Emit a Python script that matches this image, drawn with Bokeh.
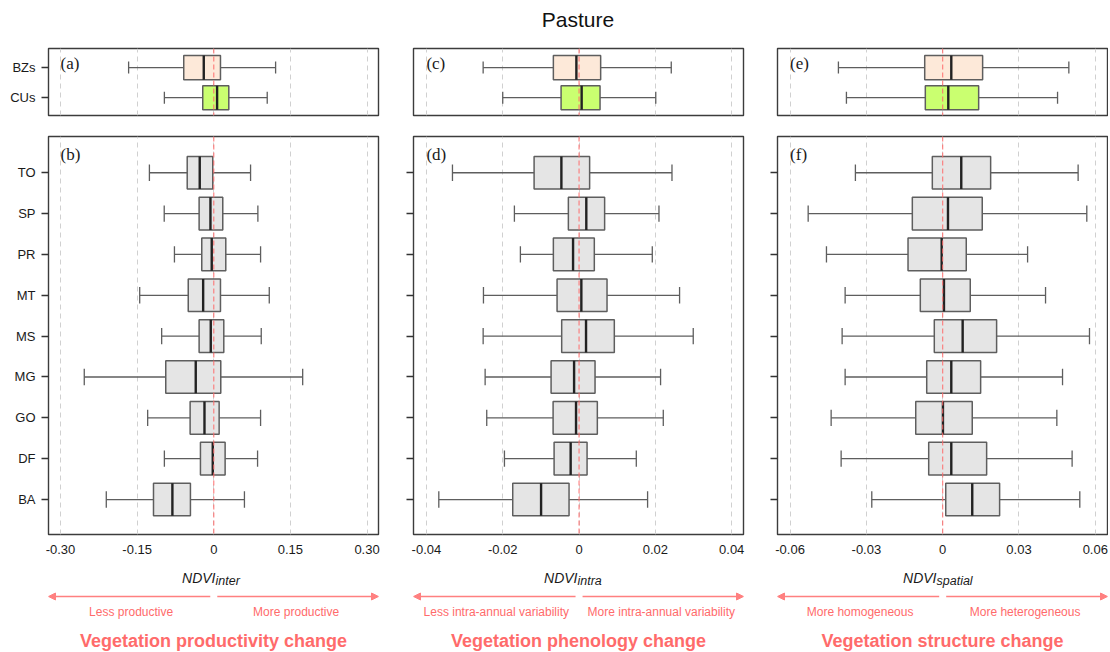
from bokeh.plotting import figure
from bokeh.layouts import column, row
from bokeh.models import Range1d, FixedTicker, Span, Arrow, NormalHead, ColumnDataSource
from bokeh.core.properties import value
from bokeh.embed import file_html
from bokeh.resources import INLINE

# ---------------- data ----------------
land_types = ["BA", "DF", "GO", "MG", "MS", "MT", "PR", "SP", "TO"]
zones = ["CUs", "BZs"]

# NDVI inter (per land type: whisker low, Q1, median, Q3, whisker high)
inter_lo = [-0.2104, -0.0967, -0.1294, -0.2535, -0.1020, -0.1450, -0.0770, -0.0970, -0.1260]
inter_q1 = [-0.1180, -0.0261, -0.0463, -0.0940, -0.0287, -0.0500, -0.0235, -0.0287, -0.0520]
inter_md = [-0.0810, -0.0020, -0.0182, -0.0353, -0.0059, -0.0208, -0.0040, -0.0065, -0.0275]
inter_q3 = [-0.0457, 0.0222, 0.0105, 0.0137, 0.0196, 0.0131, 0.0235, 0.0176, -0.0020]
inter_hi = [0.0600, 0.0857, 0.0916, 0.1740, 0.0929, 0.1086, 0.0916, 0.0863, 0.0720]
inter_zone_lo = [-0.0967, -0.1667]
inter_zone_q1 = [-0.0216, -0.0588]
inter_zone_md = [0.0065, -0.0196]
inter_zone_q3 = [0.0294, 0.0131]
inter_zone_hi = [0.1046, 0.1210]

# NDVI intra
intra_lo = [-0.03675, -0.01955, -0.02419, -0.02461, -0.02513, -0.02505, -0.01537, -0.01694, -0.03317]
intra_q1 = [-0.01738, -0.00654, -0.00680, -0.00733, -0.00455, -0.00576, -0.00673, -0.00280, -0.01178]
intra_md = [-0.00995, -0.00220, -0.00079, -0.00130, 0.00183, 0.00060, -0.00157, 0.00190, -0.00463]
intra_q3 = [-0.00262, 0.00210, 0.00479, 0.00419, 0.00924, 0.00733, 0.00400, 0.00670, 0.00277]
intra_hi = [0.01796, 0.01500, 0.02207, 0.02136, 0.02992, 0.02634, 0.01919, 0.02094, 0.02435]
intra_zone_lo = [-0.02000, -0.02513]
intra_zone_q1 = [-0.00471, -0.00673]
intra_zone_md = [0.00068, -0.00070]
intra_zone_q3 = [0.00550, 0.00566]
intra_zone_hi = [0.02010, 0.02416]

# NDVI spatial
spat_lo = [-0.02788, -0.03993, -0.04386, -0.03836, -0.03954, -0.03836, -0.04570, -0.05289, -0.03432]
spat_q1 = [0.00120, -0.00550, -0.01060, -0.00628, -0.00330, -0.00880, -0.01363, -0.01194, -0.00408]
spat_md = [0.01162, 0.00338, 0.00010, 0.00338, 0.00785, 0.00050, -0.00040, 0.00208, 0.00730]
spat_q3 = [0.02238, 0.01728, 0.01162, 0.01492, 0.02120, 0.01084, 0.00927, 0.01555, 0.01885]
spat_hi = [0.05391, 0.05089, 0.04488, 0.04712, 0.05772, 0.04044, 0.03338, 0.05666, 0.05325]
spat_zone_lo = [-0.03785, -0.04100]
spat_zone_q1 = [-0.00683, -0.00707]
spat_zone_md = [0.00220, 0.00338]
spat_zone_q3 = [0.01414, 0.01570]
spat_zone_hi = [0.04516, 0.04960]

inter_ticks = [-0.30, -0.15, 0.0, 0.15, 0.30]
inter_tick_labels = ["-0.30", "-0.15", "0", "0.15", "0.30"]
intra_ticks = [-0.04, -0.02, 0.0, 0.02, 0.04]
intra_tick_labels = ["-0.04", "-0.02", "0", "0.02", "0.04"]
spat_ticks = [-0.06, -0.03, 0.0, 0.03, 0.06]
spat_tick_labels = ["-0.06", "-0.03", "0", "0.03", "0.06"]

title_text = "Pasture"
sub_labels = ["inter", "intra", "spatial"]
left_texts = ["Less productive", "Less intra-annual variability", "More homogeneous"]
right_texts = ["More productive", "More intra-annual variability", "More heterogeneous"]
big_texts = ["Vegetation productivity change", "Vegetation phenology change", "Vegetation structure change"]

# ---------------- style ----------------
SANS = "Liberation Sans"
SERIF = "Liberation Serif"
NARROW = "'Liberation Sans Narrow', 'Arial Narrow', sans-serif"
BOX_EDGE = "#5e5e5e"
MED = "#222222"
GREY_FILL = "#e5e5e5"
BZ_FILL = "#fde9d9"
CU_FILL = "#caff70"
RED = "#ff6b6b"
ARROW_RED = "#ff8080"
GRID = "#d0d0d0"
FRAME_W = 330

XR = {
    "inter": (-0.3235, 0.3224),
    "intra": (-0.04338, 0.04309),
    "spat": (-0.06495, 0.0648),
}
TOP_YR = (0.41, 2.633)
BOT_YR = (0.144, 9.887)

COLS = [
    dict(width=398, bl=48, br=20),
    dict(width=364, bl=15, br=19),
    dict(width=346, bl=15, br=1),
]


def make_panel(cats, lo, q1, md, q3, hi, fills, xr, yr, ticks, tick_labels,
               letter, letter_dy, ylabels, yticks, xaxis, col, height, bt, bb):
    p = figure(width=col["width"], height=height,
               x_range=Range1d(*xr), y_range=Range1d(*yr),
               output_backend="svg", toolbar_location=None,
               min_border_left=col["bl"], min_border_right=col["br"],
               min_border_top=bt, min_border_bottom=bb,
               x_axis_location="below" if xaxis else None,
               y_axis_location="left" if yticks else None)
    ys = list(range(1, len(cats) + 1))
    src = ColumnDataSource(dict(
        y=ys, lo=lo, q1=q1, md=md, q3=q3, hi=hi, fill=fills,
        ylo=[y - 0.4 for y in ys], yhi=[y + 0.4 for y in ys],
        slo=[y - 0.2 for y in ys], shi=[y + 0.2 for y in ys]))
    wk = dict(line_color=BOX_EDGE, line_width=1.3, source=src)
    p.segment(x0="lo", y0="y", x1="q1", y1="y", **wk)
    p.segment(x0="q3", y0="y", x1="hi", y1="y", **wk)
    p.segment(x0="lo", y0="slo", x1="lo", y1="shi", **wk)
    p.segment(x0="hi", y0="slo", x1="hi", y1="shi", **wk)
    p.hbar(y="y", left="q1", right="q3", height=0.8, fill_color="fill",
           line_color=BOX_EDGE, line_width=1.5, source=src)
    p.segment(x0="md", y0="ylo", x1="md", y1="yhi", line_color=MED,
              line_width=2.4, source=src)
    p.add_layout(Span(location=0, dimension="height", line_color=RED,
                      line_dash="5 3", line_width=1.1, line_alpha=0.9))
    p.xgrid.ticker = FixedTicker(ticks=ticks)
    p.xgrid.grid_line_color = GRID
    p.xgrid.grid_line_dash = "5 4"
    p.xgrid.grid_line_width = 1
    p.ygrid.visible = False
    p.outline_line_color = "#3c3c3c"
    p.outline_line_width = 1.4
    p.background_fill_color = "white"
    p.border_fill_color = "white"

    if xaxis:
        ax = p.xaxis[0]
        ax.ticker = FixedTicker(ticks=ticks)
        ax.major_label_overrides = {t: l for t, l in zip(ticks, tick_labels)}
        ax.major_tick_out = 0
        ax.major_tick_in = 0
        ax.minor_tick_out = 0
        ax.minor_tick_in = 0
        ax.axis_line_color = None
        ax.major_label_standoff = 10
        ax.major_label_text_font = SANS
        ax.major_label_text_font_size = "13px"
        ax.major_label_text_color = "#1a1a1a"
    if yticks:
        ay = p.yaxis[0]
        ay.ticker = FixedTicker(ticks=ys)
        if ylabels:
            ay.major_label_overrides = {y: c for y, c in zip(ys, cats)}
        else:
            ay.major_label_overrides = {y: "" for y in ys}
        ay.major_tick_out = 7
        ay.major_tick_in = 0
        ay.minor_tick_out = 0
        ay.minor_tick_in = 0
        ay.major_tick_line_color = "#333333"
        ay.major_tick_line_width = 1.3
        ay.axis_line_color = None
        ay.major_label_standoff = 6
        ay.major_label_text_font = SANS
        ay.major_label_text_font_size = "13px"
        ay.major_label_text_color = "#1a1a1a"

    p.text(x=[ticks[0]], y=[yr[1]], text=[letter], text_align="left",
           text_baseline="top", y_offset=letter_dy,
           text_font=value(SERIF), text_font_size="17px", text_color="#1a1a1a")
    return p


def make_footer(xr, col, sub, sub_dx, ltxt, rtxt, big):
    H = 90
    f = figure(width=col["width"], height=H, x_range=Range1d(*xr),
               y_range=Range1d(0, H), output_backend="svg", toolbar_location=None,
               min_border_left=col["bl"], min_border_right=col["br"],
               min_border_top=0, min_border_bottom=0,
               x_axis_location=None, y_axis_location=None)
    f.outline_line_color = None
    f.xgrid.visible = False
    f.ygrid.visible = False
    mid = (xr[0] + xr[1]) / 2
    f.text(x=[mid], y=[H - 15], text=["NDVI"], text_align="right",
           text_baseline="middle", x_offset=sub_dx,
           text_font=value(SANS), text_font_style="italic",
           text_font_size="14px", text_color="#1a1a1a")
    f.text(x=[mid], y=[H - 18], text=[sub], text_align="left",
           text_baseline="middle", x_offset=sub_dx,
           text_font=value(SANS), text_font_style="italic",
           text_font_size="12.5px", text_color="#1a1a1a")
    gap = 3.5 * (xr[1] - xr[0]) / FRAME_W
    ya = H - 34
    for xs, xe in [(-gap, xr[0]), (gap, xr[1])]:
        f.add_layout(Arrow(end=NormalHead(size=7, fill_color=ARROW_RED,
                                          line_color=ARROW_RED, line_width=1),
                           x_start=xs, y_start=ya, x_end=xe, y_end=ya,
                           line_color=ARROW_RED, line_width=1.3))
    f.text(x=[xr[0] / 2, xr[1] / 2], y=[H - 49, H - 49], text=[ltxt, rtxt],
           text_align="center", text_baseline="middle",
           text_font=value(NARROW), text_font_size="12px", text_color=RED)
    f.text(x=[mid], y=[H - 78], text=[big], text_align="center",
           text_baseline="middle", text_font=value(SANS),
           text_font_style="bold", text_font_size="18px", text_color=RED)
    return f


# title strip
tfig = figure(width=1108, height=46, x_range=Range1d(0, 1108), y_range=Range1d(0, 46),
              output_backend="svg", toolbar_location=None, min_border=0,
              x_axis_location=None, y_axis_location=None)
tfig.outline_line_color = None
tfig.xgrid.visible = False
tfig.ygrid.visible = False
tfig.text(x=[577.5], y=[27], text=[title_text], text_align="center",
          text_baseline="middle", text_font=value(SANS), text_font_size="21px",
          text_color="#111111")

zone_fills = [CU_FILL, BZ_FILL]
grey = [GREY_FILL] * len(land_types)

metrics = [
    ("inter", inter_zone_lo, inter_zone_q1, inter_zone_md, inter_zone_q3, inter_zone_hi,
     inter_lo, inter_q1, inter_md, inter_q3, inter_hi, inter_ticks, inter_tick_labels, "(a)", "(b)"),
    ("intra", intra_zone_lo, intra_zone_q1, intra_zone_md, intra_zone_q3, intra_zone_hi,
     intra_lo, intra_q1, intra_md, intra_q3, intra_hi, intra_ticks, intra_tick_labels, "(c)", "(d)"),
    ("spat", spat_zone_lo, spat_zone_q1, spat_zone_md, spat_zone_q3, spat_zone_hi,
     spat_lo, spat_q1, spat_md, spat_q3, spat_hi, spat_ticks, spat_tick_labels, "(e)", "(f)"),
]
sub_dx = [2, -1, -6]

tops, bots, foots = [], [], []
for i, m in enumerate(metrics):
    key, zlo, zq1, zmd, zq3, zhi, blo, bq1, bmd, bq3, bhi, tk, tl, la, lb = m
    col = COLS[i]
    xr = XR[key]
    tops.append(make_panel(zones, zlo, zq1, zmd, zq3, zhi, zone_fills, xr, TOP_YR, tk, tl,
                           la, 5, ylabels=(i == 0), yticks=(i == 0), xaxis=False,
                           col=col, height=88, bt=2, bb=19))
    bots.append(make_panel(land_types, blo, bq1, bmd, bq3, bhi, grey, xr, BOT_YR, tk, tl,
                           lb, 8, ylabels=(i == 0), yticks=True, xaxis=True,
                           col=col, height=428, bt=2, bb=28))
    foots.append(make_footer(xr, col, sub_labels[i], sub_dx[i], left_texts[i],
                             right_texts[i], big_texts[i]))

layout = column(tfig, row(*tops), row(*bots), row(*foots))
open("out.html", "w").write(file_html(layout, INLINE))
